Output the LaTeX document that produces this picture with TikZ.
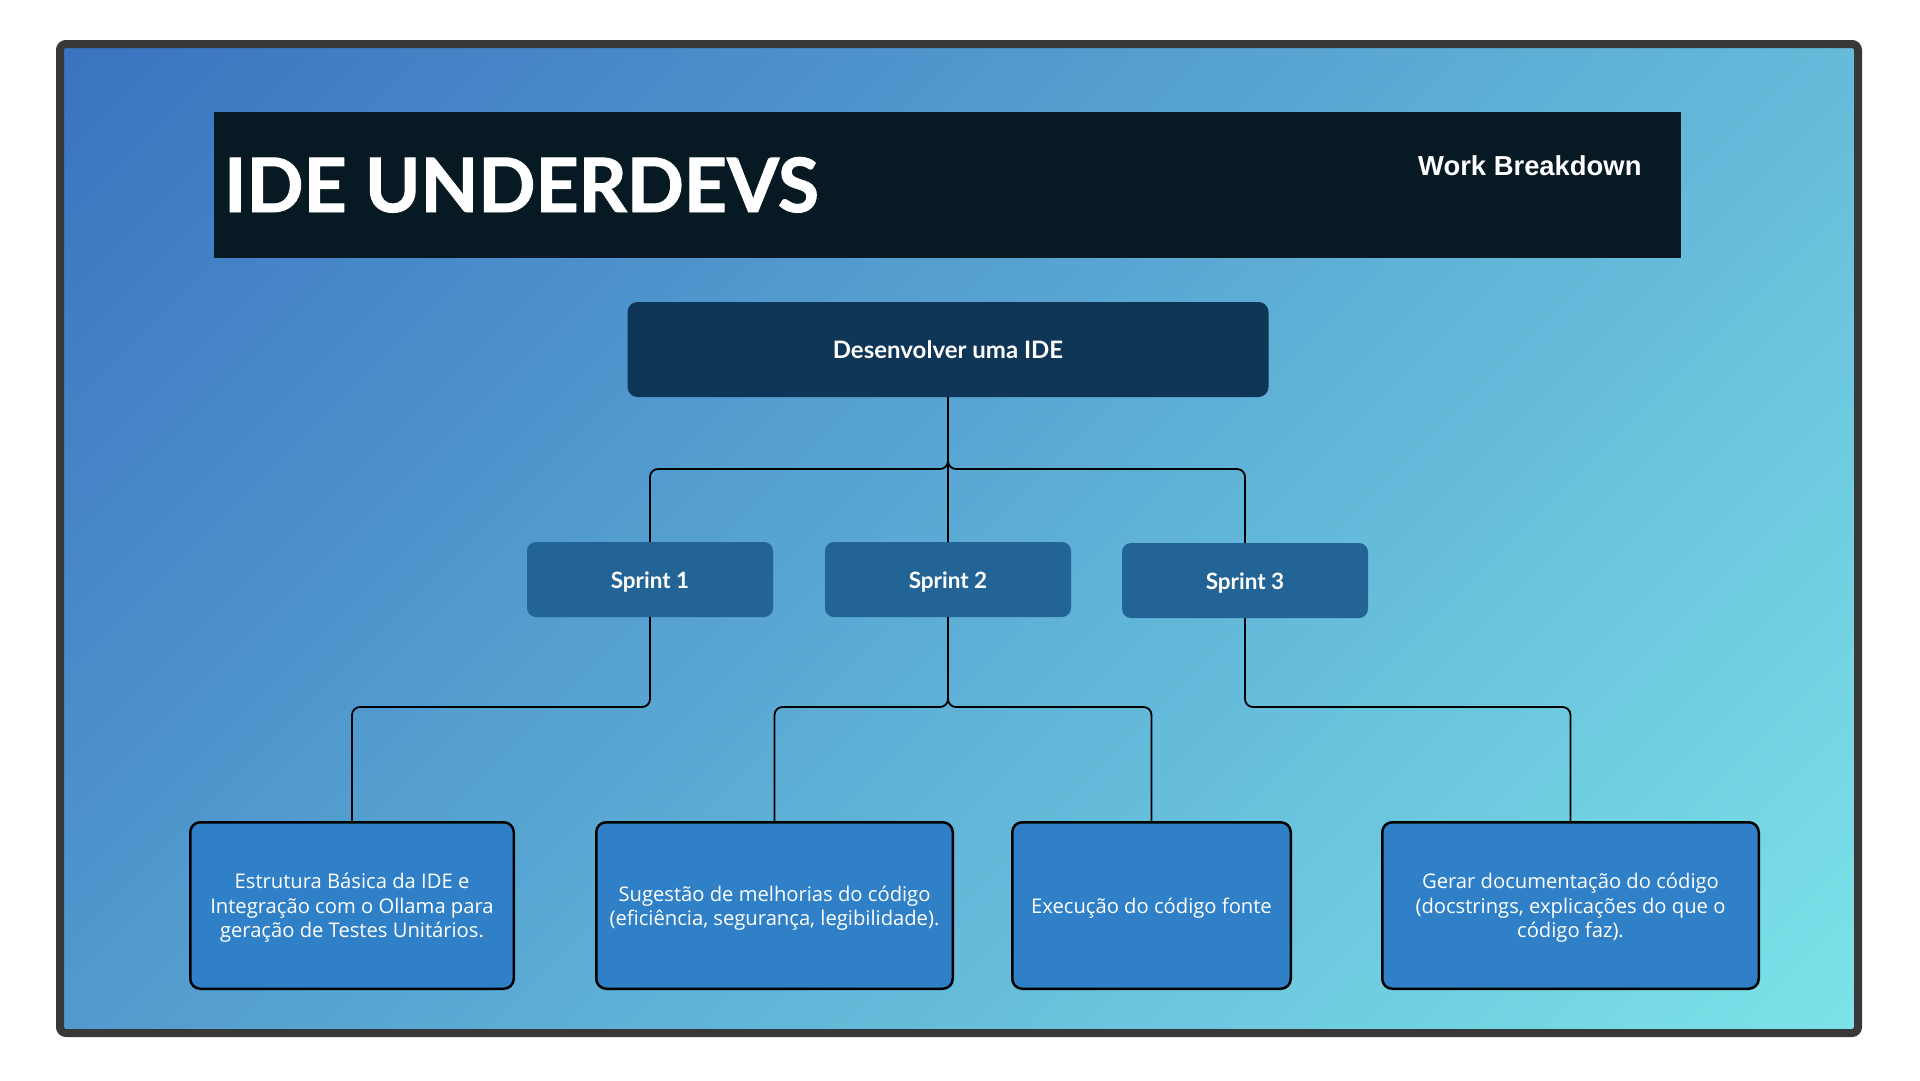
\documentclass[tikz,border=0pt]{standalone}
\usepackage{fontspec}
\setmainfont{Lato}
\newfontfamily\headfont{Lato}
\newfontfamily\titlefont{Lato}[FakeBold=1.3]
\newfontfamily\arialfont{Liberation Sans}
\newfontfamily\leaffont{Open Sans}
\definecolor{bgA}{HTML}{3A72C0}
\definecolor{bgB}{HTML}{7CE3E8}
\definecolor{framegray}{HTML}{383838}
\definecolor{titlebg}{HTML}{071A24}
\definecolor{rootblue}{HTML}{0F3557}
\definecolor{sprintblue}{HTML}{226496}
\definecolor{leafblue}{HTML}{3080C8}
\begin{document}
\begin{tikzpicture}[x=1pt,y=-1pt,
  rootbox/.style={fill=rootblue, rounded corners=10pt, minimum width=641pt, minimum height=95pt, inner sep=0pt, text=white, font=\headfont\bfseries\fontsize{24}{28}\selectfont},
  sprintbox/.style={fill=sprintblue, rounded corners=9pt, minimum width=246pt, minimum height=75pt, inner sep=0pt},
  sprinttext/.style={inner sep=0pt, yshift=-2.5pt, text=white, font=\headfont\bfseries\fontsize{22.5}{26}\selectfont},
  leafbox/.style={draw=black, line width=2.5pt, fill=leafblue, rounded corners=10pt, minimum height=166.5pt, inner sep=0pt},
  leaftext/.style={inner sep=0pt, yshift=-2.5pt, align=center, text=white, font=\leaffont\fontsize{20.2}{24.5}\selectfont},
  link/.style={draw=black, line width=1.8pt, rounded corners=8pt}]
\useasboundingbox (0,0) rectangle (1920,1080);
\fill[white] (0,0) rectangle (1920,1080);
% background gradient (45 degrees, top-left to bottom-right)
\begin{scope}
\clip (60,44) rectangle (1858,1033);
\foreach \i in {0,...,149} {
  \pgfmathsetmacro\pct{100*(\i+0.5)/150}
  \pgfmathsetmacro\da{\i/150*2787}
  \pgfmathsetmacro\db{(\i+1.3)/150*2787}
  \fill[bgB!\pct!bgA] (60+\da,44) -- (60+\db,44) -- (60,44+\db) -- (60,44+\da) -- cycle;
}
\end{scope}
\draw[framegray, line width=8pt, rounded corners=6pt] (60,44) rectangle (1858,1033);
% title bar
\node[fill=titlebg, minimum width=1467pt, minimum height=146pt, inner sep=0pt, anchor=north west] (titlebox) at (214,112) {};
\node[anchor=base west, inner sep=0pt, text=white, font=\titlefont\bfseries\fontsize{75}{80}\selectfont] (title) at (224,212) {IDE UNDERDEVS};
\node[anchor=base west, inner sep=0pt, text=white, font=\arialfont\bfseries\fontsize{27.4}{30}\selectfont] (sub) at (1418,175) {Work Breakdown};
% nodes
\node[rootbox] (root) at (948,349.5) {Desenvolver uma IDE};
\node[sprintbox, label={[sprinttext]center:Sprint 1}] (s1) at (650,579.5) {};
\node[sprintbox, label={[sprinttext]center:Sprint 2}] (s2) at (948,579.5) {};
\node[sprintbox, label={[sprinttext]center:Sprint 3}] (s3) at (1245,580.5) {};
\node[leafbox, minimum width=323.5pt, label={[leaftext]center:Estrutura Básica da IDE e\\Integração com o Ollama para\\geração de Testes Unitários.}] (l1) at (352,905.5) {};
\node[leafbox, minimum width=356.5pt, label={[leaftext]center:Sugestão de melhorias do código\\(eficiência, segurança, legibilidade).}] (l2) at (774.5,905.5) {};
\node[leafbox, minimum width=278.5pt, label={[leaftext]center:Execução do código fonte}] (l3) at (1151.5,905.5) {};
\node[leafbox, minimum width=376.5pt, label={[leaftext]center:Gerar documentação do código\\(docstrings, explicações do que o\\código faz).}] (l4) at (1570.5,905.5) {};
% junction levels
\coordinate (j1) at (948,469);
\coordinate (j2) at (948,707);
% connectors
\draw[link] (root.south) |- (s1.north |- j1) -- (s1.north);
\draw[link] (root.south) |- (s3.north |- j1) -- (s3.north);
\draw[link] (root.south) -- (s2.north);
\draw[link] (s1.south) |- (l1.north |- j2) -- (l1.north);
\draw[link] (s2.south) |- (l2.north |- j2) -- (l2.north);
\draw[link] (s2.south) |- (l3.north |- j2) -- (l3.north);
\draw[link] (s3.south) |- (l4.north |- j2) -- (l4.north);
\end{tikzpicture}
\end{document}
